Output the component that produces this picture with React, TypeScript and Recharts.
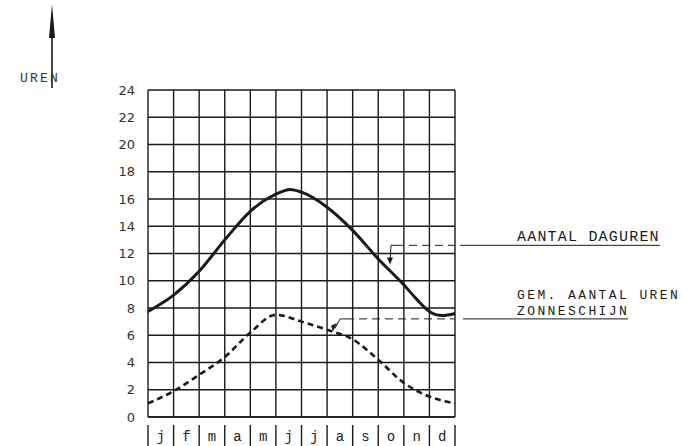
import React from 'react';
import { LineChart, Line, XAxis, YAxis, CartesianGrid } from 'recharts';

// months along the bottom (one letter per column)
const months = ['j', 'f', 'm', 'a', 'm', 'j', 'j', 'a', 's', 'o', 'n', 'd'];
const yTicks = [0, 2, 4, 6, 8, 10, 12, 14, 16, 18, 20, 22, 24];
const colEdges = [0, 1, 2, 3, 4, 5, 6, 7, 8, 9, 10, 11, 12];

// aantal daguren (solid)
const dayX = [0, 1, 2, 3, 4, 5, 5.55, 6, 7, 8, 9, 10, 10.5, 11, 11.5, 12];
const dayH = [7.75, 8.95, 10.7, 13.0, 15.1, 16.35, 16.7, 16.5, 15.4, 13.7, 11.6, 9.7, 8.65, 7.75, 7.45, 7.6];

// gem. aantal uren zonneschijn (dashed)
const sunX = [0, 1, 2, 3, 4, 5, 6, 7, 8, 9, 10, 11, 12];
const sunH = [1.0, 1.9, 3.1, 4.4, 6.2, 7.5, 7.0, 6.4, 5.7, 4.2, 2.5, 1.5, 1.0];

const dayData = dayX.map((x, i) => ({ x, v: dayH[i] }));
const sunData = sunX.map((x, i) => ({ x, v: sunH[i] }));

const W = 683;
const H = 446;
const PLOT_L = 148;
const PLOT_R = 455;
const PLOT_T = 90;
const PLOT_B = 417;
const COL_W = (PLOT_R - PLOT_L) / months.length;

const py = (v: number) => PLOT_B - (v / 24) * (PLOT_B - PLOT_T);

const ink = '#1a1a1a';
const mono = '"Liberation Mono", "DejaVu Sans Mono", monospace';

// grid line continues below the zero line, month letter sits in the column to its right
const MonthTick = ({ x, y, payload }: any) => (
  <g>
    <line x1={x} y1={y} x2={x} y2={H} stroke={ink} strokeWidth={1.4} />
    {payload.value < months.length && (
      <text x={x + COL_W / 2} y={441} textAnchor="middle" fontFamily={mono} fontSize={14} fill="#222">
        {months[payload.value]}
      </text>
    )}
  </g>
);

const Annotations = () => (
  <svg width={W} height={H} style={{ position: 'absolute', left: 0, top: 0, pointerEvents: 'none' }}>
    {/* UREN arrow */}
    <line x1={52} y1={88} x2={52} y2={30} stroke={ink} strokeWidth={1.6} />
    <polygon points="52,4 49,38 55,38" fill={ink} />
    <text x={20} y={82} fontFamily={mono} fontSize={13} letterSpacing={2.2} fill="#333">UREN</text>

    {/* daguren leader */}
    <line x1={396} y1={py(12.6)} x2={PLOT_R} y2={py(12.6)} stroke={ink} strokeWidth={1} strokeDasharray="8 5" />
    <path d={`M396 ${py(12.6)} L391 ${py(12.6)} L390 ${py(11.4)}`} stroke={ink} strokeWidth={1} fill="none" />
    <polygon points={`387,${py(11.7)} 393,${py(11.7)} 390,${py(11.2)}`} fill={ink} />
    <line x1={460} y1={py(12.6)} x2={660} y2={py(12.6)} stroke={ink} strokeWidth={1} />
    <text x={517} y={241} fontFamily={mono} fontSize={15} letterSpacing={1.2} fill={ink}>AANTAL DAGUREN</text>

    {/* zonneschijn leader */}
    <line x1={346} y1={py(7.2)} x2={PLOT_R} y2={py(7.2)} stroke={ink} strokeWidth={1} strokeDasharray="8 5" />
    <path d={`M346 ${py(7.2)} L340 ${py(7.2)} L335 ${py(6.5)}`} stroke={ink} strokeWidth={1} fill="none" />
    <polygon points={`331,${py(6.7)} 337,${py(6.9)} 333,${py(6.3)}`} fill={ink} />
    <line x1={463} y1={py(7.2)} x2={628} y2={py(7.2)} stroke={ink} strokeWidth={1} />
    <text x={517} y={299} fontFamily={mono} fontSize={13} letterSpacing={2.4} fill={ink}>GEM. AANTAL UREN</text>
    <text x={517} y={315} fontFamily={mono} fontSize={13} letterSpacing={2.4} fill={ink}>ZONNESCHIJN</text>
  </svg>
);

export default function App() {
  return (
    <div style={{ position: 'absolute', left: 0, top: 0, width: W, height: H, background: '#fff' }}>
      <LineChart width={W} height={H} margin={{ top: PLOT_T, right: W - PLOT_R, bottom: 0, left: 0 }}>
        <CartesianGrid stroke={ink} strokeWidth={1.4} />
        <XAxis
          type="number"
          dataKey="x"
          domain={[0, 12]}
          ticks={colEdges}
          interval={0}
          height={H - PLOT_B}
          axisLine={{ stroke: ink, strokeWidth: 1.4 }}
          tickLine={false}
          tick={<MonthTick />}
        />
        <YAxis
          type="number"
          domain={[0, 24]}
          ticks={yTicks}
          width={PLOT_L}
          axisLine={false}
          tickLine={false}
          tickMargin={7}
          interval={0}
          tick={{ fill: '#333', fontFamily: '"DejaVu Sans", sans-serif', fontSize: 13 }}
        />
        <Line
          data={dayData}
          dataKey="v"
          type="monotone"
          stroke={ink}
          strokeWidth={3}
          dot={false}
          isAnimationActive={false}
        />
        <Line
          data={sunData}
          dataKey="v"
          type="monotone"
          stroke={ink}
          strokeWidth={2.6}
          strokeDasharray="6 4"
          dot={false}
          isAnimationActive={false}
        />
      </LineChart>
      <Annotations />
    </div>
  );
}
